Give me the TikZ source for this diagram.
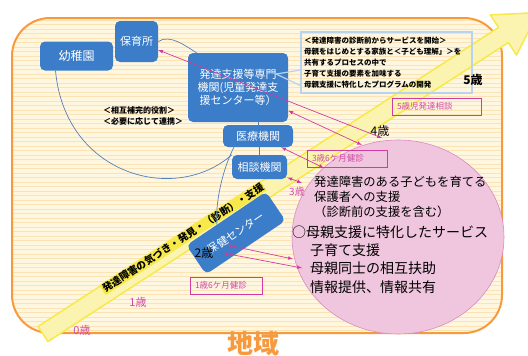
\documentclass[tikz,border=0pt]{standalone}
\usepackage{fontspec}
\setmainfont{Noto Sans CJK JP}
\definecolor{boxblue}{HTML}{3B7DC8}
\definecolor{linkblue}{HTML}{4F81BD}
\definecolor{noteblue}{HTML}{B8D3EE}
\definecolor{magline}{HTML}{D23C9E}
\definecolor{agepink}{HTML}{D04AA8}
\definecolor{cream}{HTML}{FFF6E0}
\definecolor{gridline}{HTML}{FBE3B5}
\definecolor{rim}{HTML}{F79A3E}
\definecolor{circfill}{HTML}{F0C6DE}
\definecolor{circrim}{HTML}{D98CC0}
\definecolor{bandyellow}{HTML}{F7E94A}
\definecolor{bandpale}{HTML}{FBF4B0}
\begin{document}
\begin{tikzpicture}[x=1pt,y=-1pt,
  bluebox/.style={fill=boxblue, rounded corners=5pt, text=white, font=\fontsize{11}{13}\selectfont, inner sep=0pt, align=center},
  pinkbox/.style={draw=magline, line width=0.8pt, text=agepink, font=\fontsize{8.5}{10}\selectfont, inner xsep=5pt, inner ysep=0pt, minimum height=17pt, align=left},
  link/.style={draw=linkblue, line width=0.7pt},
  noteline/.style={draw=noteblue, line width=1.2pt},
  pinkarrow/.style={latex-latex, draw=magline, line width=0.7pt}]
\useasboundingbox (0,0) rectangle (528,356);
% area
\fill[cream, rounded corners=38pt] (12,18) rectangle (502,333);
\begin{scope}
\clip[rounded corners=38pt] (12,18) rectangle (502,333);
\foreach \y in {20,24.5,...,333} % stripes
\draw[gridline, line width=0.5pt] (12,\y) -- (502,\y);
\end{scope}
\draw[rim, line width=2pt, rounded corners=38pt] (12,18) rectangle (502,333);
\node[text=rim, font=\bfseries\fontsize{26}{26}\selectfont] (chiiki) at (253,344) {地域};
% circle
\draw[fill=circfill, draw=circrim, line width=0.6pt] (398,237) ellipse [x radius=106, y radius=97];
% yellow arrow
\begin{scope}[shift={(43,334)}, rotate=33]
\draw[draw=bandyellow, fill=bandpale, line width=1.5pt, line join=round] (0,-9) -- (549,-9) -- (549,-24) -- (590,0) -- (549,24) -- (549,9) -- (0,9) -- cycle;
\end{scope}
\node[rotate=33, fill=bandyellow, inner sep=1pt, font=\bfseries\fontsize{10}{10}\selectfont] (bandtext) at (183,238) {発達障害の気づき・発見・（診断）・支援};
% boxes
\node[bluebox, minimum width=73pt, minimum height=29pt, font=\fontsize{12}{13}\selectfont] (youchi) at (76.5,56) {幼稚園};
\node[bluebox, minimum width=43pt, minimum height=41pt] (hoiku) at (136.5,41.5) {保育所};
\node[bluebox, minimum width=100pt, minimum height=69pt] (hattatsu) at (238,87.5) {発達支援等専門\\機関(児童発達支\\援センター等）};
\node[bluebox, minimum width=70pt, minimum height=22pt] (iryou) at (258,136) {医療機関};
\node[bluebox, minimum width=55pt, minimum height=24pt] (soudan) at (259.5,167) {相談機関};
\node[bluebox, minimum width=96pt, minimum height=35pt, rotate=34] (hoken) at (236,233) {保健センター};
\node[draw=noteblue, line width=1.2pt, minimum width=171pt, minimum height=61pt, text width=165pt, inner xsep=3pt, align=left, font=\bfseries\fontsize{7.5}{11}\selectfont] (note) at (386.5,62.5) {＜発達障害の診断前からサービスを開始＞\\母親をはじめとする家族と＜子ども理解」＞を\\共有するプロセスの中で\\子育て支援の要素を加味する\\母親支援に特化したプログラムの開発};
\node[anchor=west, align=left, inner sep=0pt, font=\bfseries\fontsize{8}{11}\selectfont] (role) at (103,115.5) {＜相互補完的役割＞\\＜必要に応じて連携＞};
% checkups
\node[pinkbox, text width=79pt] (soudan5) at (436.5,106.5) {5歳児発達相談};
\node[pinkbox, text width=70pt] (kenshin3) at (347,158.5) {3歳6ケ月健診};
\node[pinkbox, text width=62pt] (kenshin1) at (226,285.5) {1歳6ケ月健診};
% ages
\node[font=\bfseries\fontsize{12}{12}\selectfont] (age5) at (473,80) {5歳};
\node[font=\fontsize{12}{12}\selectfont] (age4) at (380,131) {4歳};
\node[text=agepink, font=\fontsize{10}{10}\selectfont] (age3) at (297,192) {3歳};
\node[font=\fontsize{12}{12}\selectfont] (age2) at (204,253) {2歳};
\node[text=agepink, font=\fontsize{11}{11}\selectfont] (age1) at (138,302) {1歳};
\node[text=agepink, font=\fontsize{11}{11}\selectfont] (age0) at (82,330) {0歳};
% support texts
\node[anchor=west, align=left, inner sep=0pt, font=\fontsize{12.3}{15}\selectfont] (care) at (314,197) {発達障害のある子どもを育てる\\保護者への支援\\（診断前の支援を含む）};
\node[anchor=west, inner sep=0pt, font=\fontsize{14}{18}\selectfont] (mother) at (292,232) {○母親支援に特化したサービス};
\node[anchor=west, align=left, inner sep=0pt, font=\fontsize{14}{18.5}\selectfont] (items) at (310,268.5) {子育て支援\\母親同士の相互扶助\\情報提供、情報共有};
% links
\draw[link] (hoiku.east) .. controls +(12,-8) and +(-10,-6) .. (hattatsu.140);
\draw[link] (youchi.215) .. controls (65,175) and (175,205) .. (soudan.north west);
\draw[link] (iryou.205) .. controls (222,170) and (215,205) .. (hoken.122);
\draw[link] (iryou.north) -- (iryou.north |- hattatsu.south);
\draw[link] (soudan.north) -- (soudan.north |- iryou.south);
\draw[noteline] ([xshift=-12pt]hattatsu.15) -- (note.185);
\draw[noteline] ([xshift=-12pt]hattatsu.15) -- (note.195);
% arrows to the circle
\coordinate (c1) at (382,138);
\coordinate (c2) at (362,145);
\coordinate (c3) at (324,168);
\coordinate (c4) at (302,183);
\coordinate (c5) at (293,259);
\coordinate (c6) at (302,268);
\draw[pinkarrow] (hoiku) -- (c1);
\draw[pinkarrow] (hattatsu) -- (c2);
\draw[pinkarrow] (iryou) -- (c3);
\draw[pinkarrow] (soudan) -- (c4);
\draw[pinkarrow] ([shift={(-9,12)}]hoken.center) -- (c5);
\draw[pinkarrow] ([shift={(-13,20)}]hoken.center) -- (c6);
\end{tikzpicture}
\end{document}
